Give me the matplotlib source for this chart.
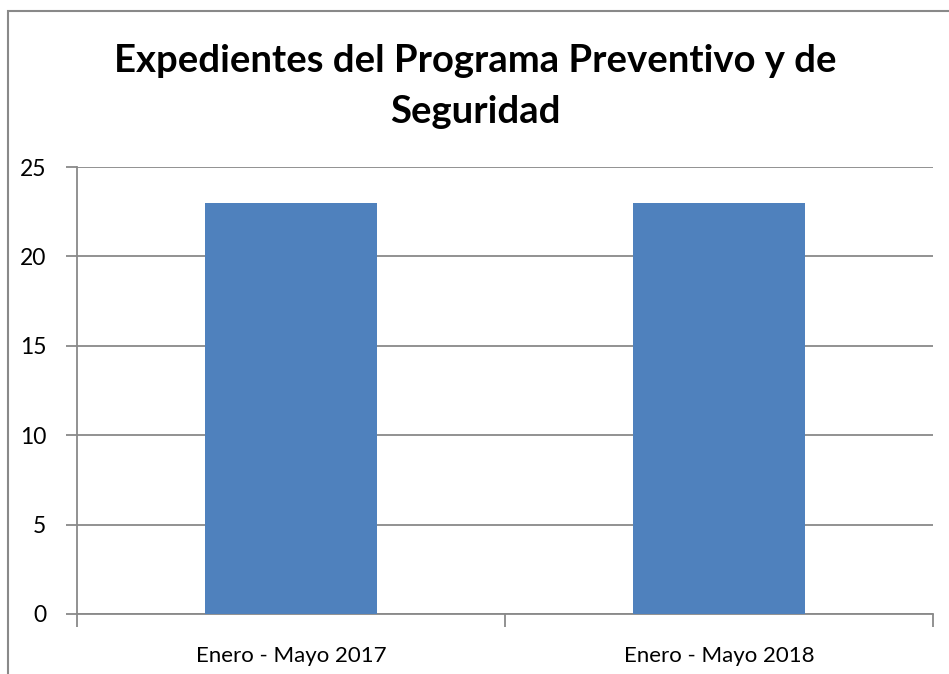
import matplotlib.pyplot as plt
from matplotlib.patches import Rectangle

categories = ["Enero - Mayo 2017", "Enero - Mayo 2018"]
values = [23, 23]
yticks = [0, 5, 10, 15, 20, 25]
title_lines = ["Expedientes del Programa Preventivo y de", "Seguridad"]

plt.rcParams['font.family'] = ['Lato', 'DejaVu Sans']
grey = '#898989'

fig = plt.figure(figsize=(9.49, 6.74), dpi=100)
ax = fig.add_axes([77 / 949, 1 - 614 / 674, (933 - 77) / 949, (614 - 167) / 674])

# outer chart frame (only top and left edges visible)
fig.patches.append(Rectangle((8 / 949, -0.05), 1.2, 1 - 11 / 674 + 0.05,
                             transform=fig.transFigure, fill=False,
                             edgecolor=grey, linewidth=1.5))

x = list(range(len(categories)))
ax.bar(x, values, width=0.4, color='#4F81BD', zorder=3)

ax.set_xlim(-0.5, len(categories) - 0.5)
ax.set_ylim(0, 25)
ax.set_yticks(yticks)
ax.yaxis.grid(True, color=grey, linewidth=1.3, zorder=0)

ax.set_xticks(x)
ax.set_xticklabels(categories, fontsize=16)
ax.set_xticks([i - 0.5 for i in range(len(categories) + 1)], minor=True)
ax.tick_params(axis='x', which='major', length=0, pad=23)
ax.tick_params(axis='x', which='minor', length=9, width=1.3, color=grey, direction='out')
ax.tick_params(axis='y', length=8, width=1.3, color=grey, direction='out', labelsize=16.5, pad=14)

for s in ['top', 'right']:
    ax.spines[s].set_visible(False)
for s in ['left', 'bottom']:
    ax.spines[s].set_color(grey)
    ax.spines[s].set_linewidth(1.3)

# title, two lines with baselines as in the reference
for line, base in zip(title_lines, [72, 123]):
    fig.text(475 / 949, 1 - base / 674, line, ha='center', va='baseline',
             fontsize=27.5, fontweight='bold')

fig.savefig('out.png', dpi=100, facecolor='white')
